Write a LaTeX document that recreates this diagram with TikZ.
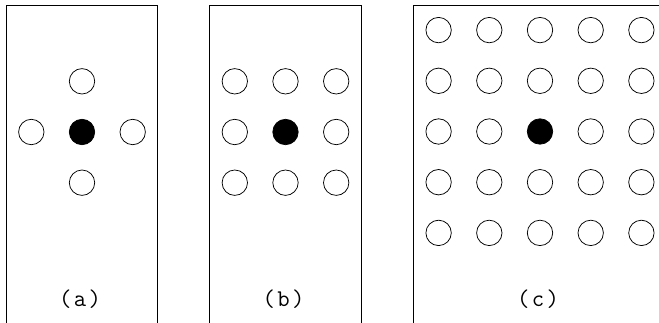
\documentclass[tikz,border=0pt]{standalone}
\usepackage{fontspec}
\newfontfamily\labelfont[LetterSpace=10]{Latin Modern Mono}
\newcommand\captionsize{\fontsize{24pt}{24pt}\selectfont}
\begin{document}
\begin{tikzpicture}[x=1pt,y=-1pt,
  panel/.style={draw=black,line width=0.9pt},
  ring/.style={circle,draw=black,line width=0.75pt,minimum size=25.4pt,inner sep=0pt},
  hub/.style={ring,fill=black},
  caption/.style={font=\labelfont\captionsize,anchor=base,inner sep=0pt}]
\useasboundingbox (0,0) rectangle (659,323);
\clip (0,0) rectangle (659,323);
\def\gap{50.7}
% panel frames, open at the bottom
\draw[panel] (6,330) -- (6,5) -- (157.5,5) -- (157.5,330);
\draw[panel] (209.7,330) -- (209.7,5) -- (361.3,5) -- (361.3,330);
\draw[panel] (413.7,330) -- (413.7,5) -- (666.3,5) -- (666.3,330);
% (a) four nearest neighbours
\node[hub]  (a-c) at (82,132) {};
\node[ring] (a-n) at (82,132-\gap) {};
\node[ring] (a-s) at (82,132+\gap) {};
\node[ring] (a-w) at (82-\gap,132) {};
\node[ring] (a-e) at (82+\gap,132) {};
% (b) 3x3 neighbourhood
\foreach \i in {-1,0,1}
  \foreach \j in {-1,0,1}{
    \ifnum\i=0 \ifnum\j=0 \else
      \node[ring] (b-\i-\j) at (285.5+\i*\gap,132+\j*\gap) {};
    \fi \else
      \node[ring] (b-\i-\j) at (285.5+\i*\gap,132+\j*\gap) {};
    \fi}
\node[hub] (b-c) at (285.5,132) {};
% (c) 5x5 neighbourhood
\foreach \i in {-2,...,2}
  \foreach \j in {-2,...,2}{
    \ifnum\i=0 \ifnum\j=0 \else
      \node[ring] (c-\i-\j) at (540+\i*\gap,131.5+\j*\gap) {};
    \fi \else
      \node[ring] (c-\i-\j) at (540+\i*\gap,131.5+\j*\gap) {};
    \fi}
\node[hub] (c-c) at (540,131.5) {};
% captions
\node[caption] (la) at (80,306.5) {(a)};
\node[caption] (lb) at (283.5,306.5) {(b)};
\node[caption] (lc) at (538,306.5) {(c)};
\end{tikzpicture}
\end{document}
